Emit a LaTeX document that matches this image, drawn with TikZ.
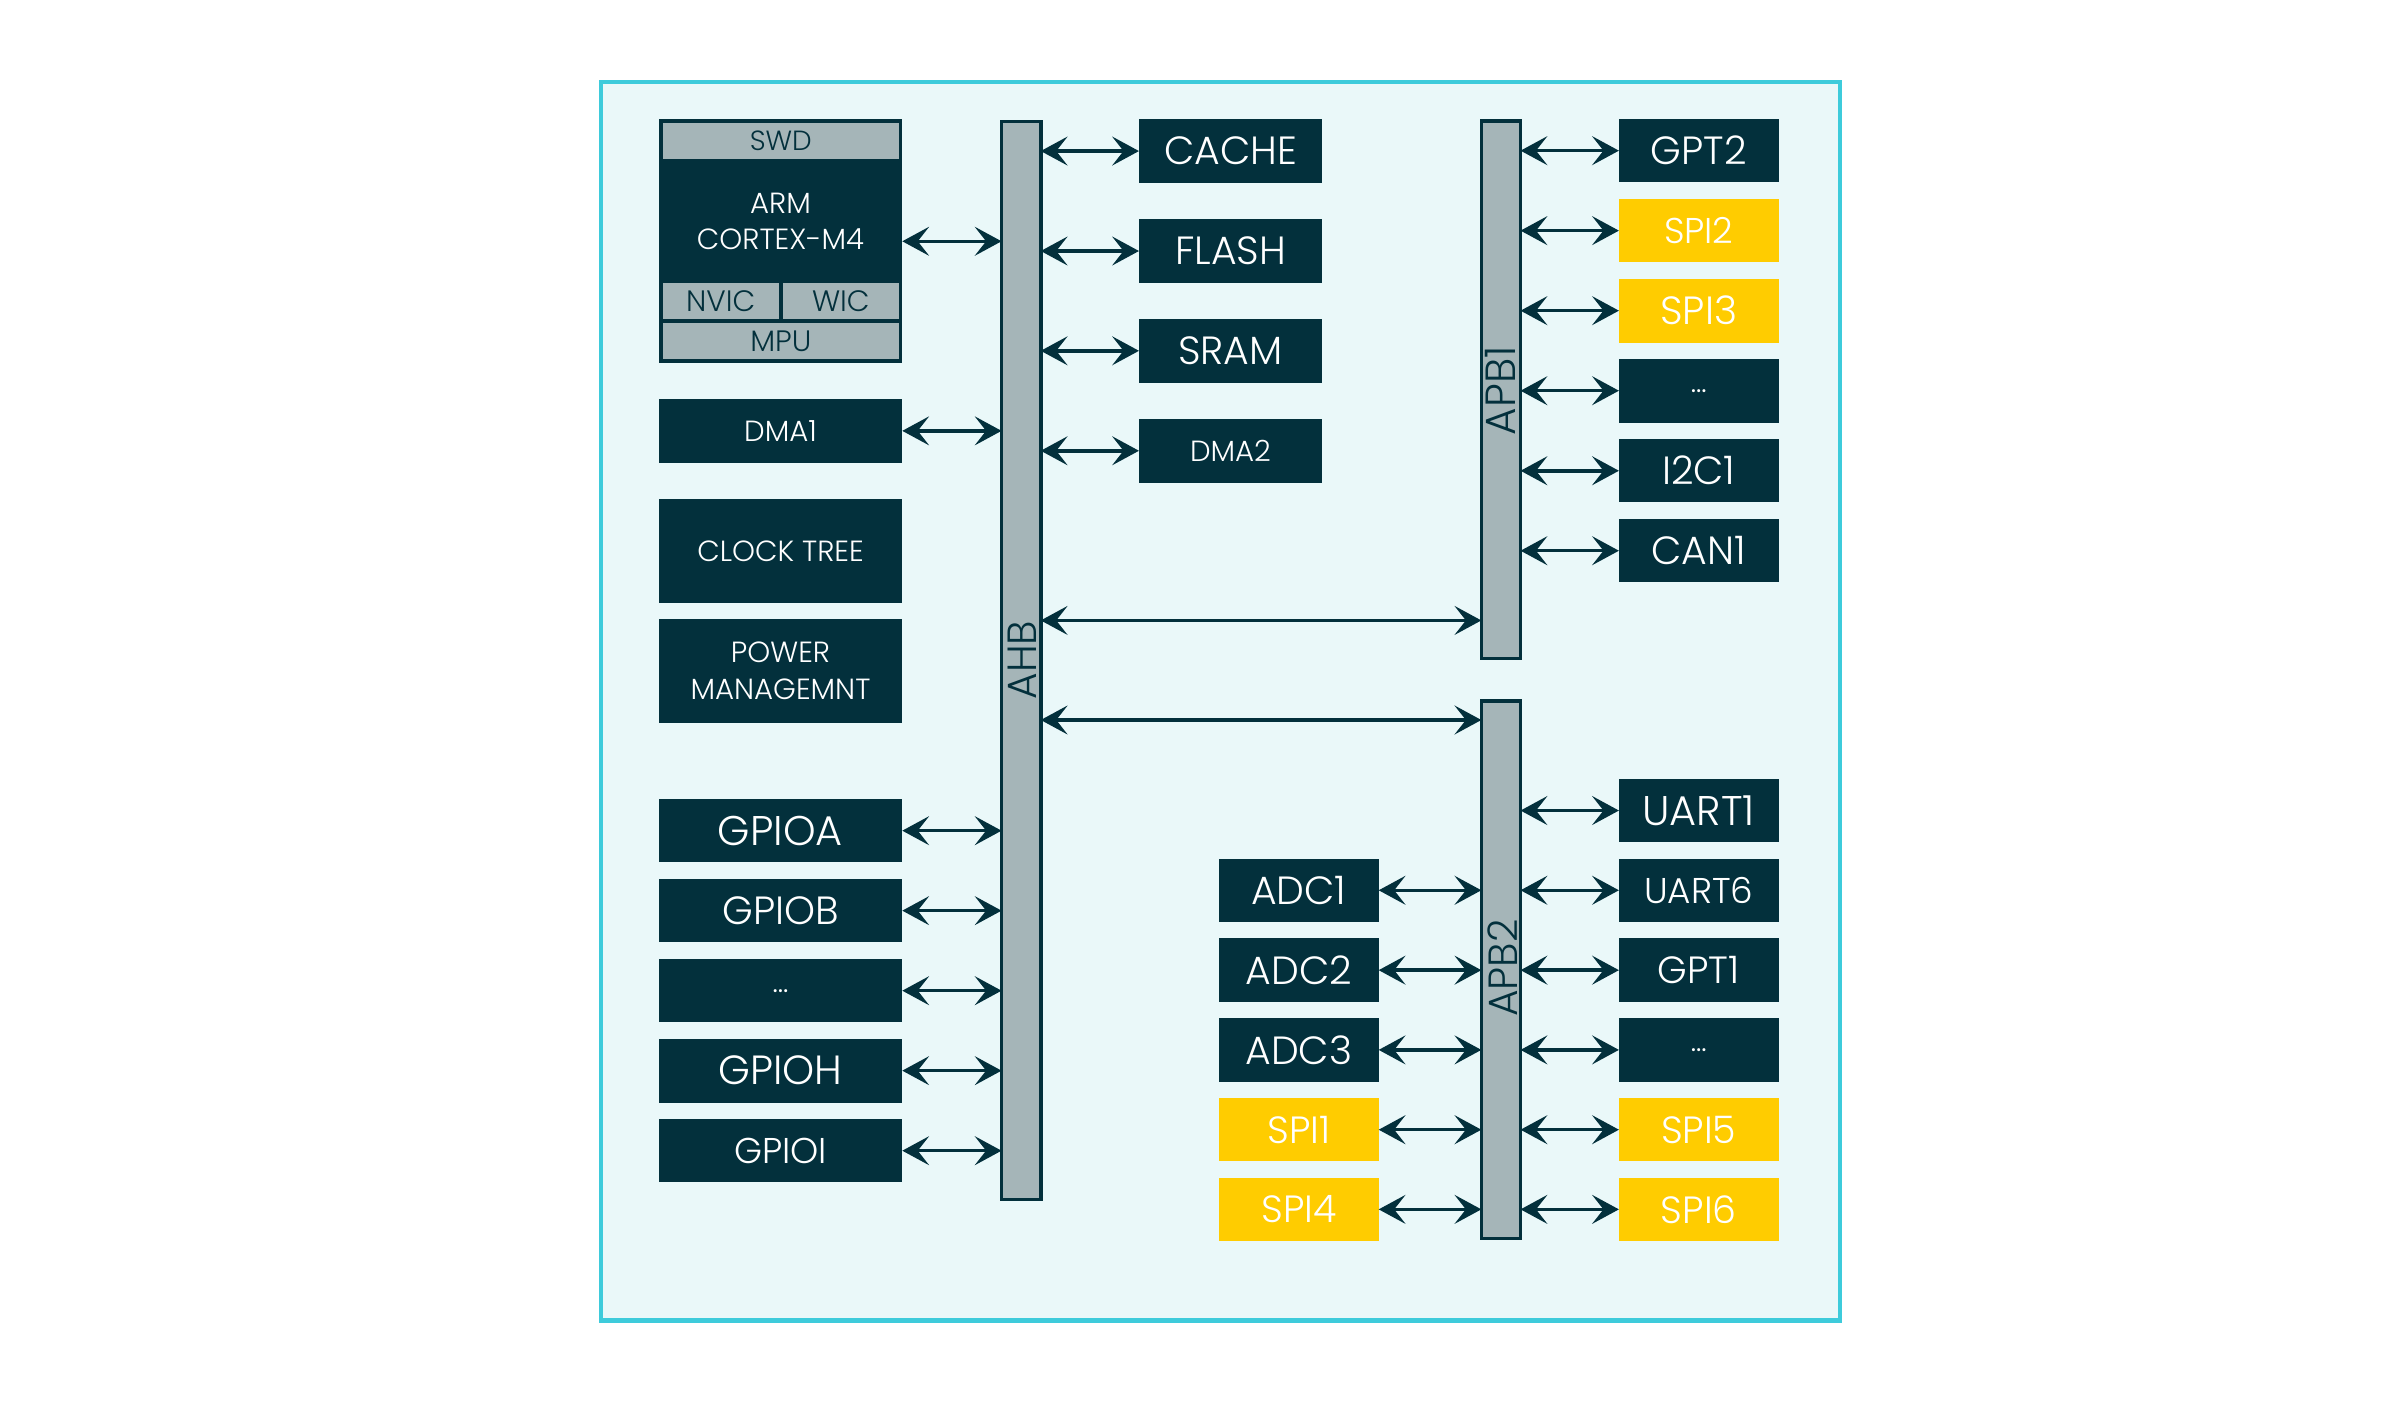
\documentclass[tikz,border=0pt]{standalone}
\usepackage{fontspec}
\setmainfont{Poppins}[UprightFont=* Light]
\usetikzlibrary{arrows.meta}
\definecolor{dk}{HTML}{03303C}
\definecolor{gr}{HTML}{A5B5B8}
\definecolor{yl}{HTML}{FFCC00}
\definecolor{fr}{HTML}{3ECBDB}
\definecolor{bg}{HTML}{EAF8F9}
\def\u{0.015319cm}
% \blk[style]{name}{x1}{y1}{x2}{y2}{text}
\newcommand\blk[7][]{\node[#1, minimum width={(#5-#3)*\u}, minimum height={(#6-#4)*\u}] (#2) at ({(#3+#5)/2},{(#4+#6)/2}) {#7};}
\tikzset{
  base/.style={inner sep=0pt, outer sep=0pt, align=center, font=\fontsize{11.2}{13}\selectfont},
  dbox/.style={base, fill=dk, text=white},
  ybox/.style={base, fill=yl, text=white},
  gcell/.style={base, fill=gr, text=dk, font=\fontsize{8.4}{10}\selectfont},
  bar/.style={base, fill=gr, draw=dk, line width=1pt},
  barlbl/.style={inner sep=0pt, text=dk, rotate=90, font=\fontsize{11.6}{13}\selectfont},
  sm/.style={font=\fontsize{8.3}{10.5}\selectfont},
  md/.style={font=\fontsize{10.2}{12}\selectfont},
  frm/.style={base, fill=bg, draw=fr, line width=1.15pt},
  tip/.tip={Stealth[length=7.6pt,width=8.2pt,inset=3.2pt]},
  link/.style={draw=dk, line width=1pt, tip-tip},
}
\begin{document}
\begin{tikzpicture}[x=\u, y=-\u]
\fill[white] (0,0) rectangle (1568,914);
\useasboundingbox (0,0) rectangle (1568,914);
\blk[frm]{frame}{392.5}{53.5}{1201}{862}{}

% CPU block
\blk[dbox]{cpu}{430}{78}{589}{237}{}
\blk[gcell, font=\fontsize{7.9}{10}\selectfont]{swd}{432.6}{80.4}{586.8}{103.6}{SWD}
\blk[gcell]{nvic}{432.6}{184.7}{508.3}{208}{NVIC}
\blk[gcell]{wic}{511}{184.7}{586.8}{208}{WIC}
\blk[gcell]{mpu}{432.6}{210.8}{586.8}{234.4}{MPU}
\node[base, sm, text=white] (armtxt) at (509.5,144.5) {ARM\\CORTEX-M4};

\blk[dbox, sm]{dma1}{430}{260.5}{589}{302}{DMA1}
\blk[dbox, sm]{clk}{430}{325.7}{589}{393.4}{CLOCK TREE}
\blk[dbox, sm]{pwr}{430}{404}{589}{471.7}{POWER\\MANAGEMNT}

\blk[dbox, font=\fontsize{11.8}{13}\selectfont]{gpioa}{430}{521.5}{589}{563}{GPIOA}
\blk[dbox]{gpiob}{430}{573.7}{589}{615.2}{GPIOB}
\blk[dbox, sm]{gpiod}{430}{626}{589}{667.4}{...}
\blk[dbox, font=\fontsize{11.6}{13}\selectfont]{gpioh}{430}{678.1}{589}{719.7}{GPIOH}
\blk[dbox, md]{gpioi}{430}{730.4}{589}{771.9}{GPIOI}

% AHB
\blk[bar]{ahb}{653.8}{79.2}{679.4}{783}{}
\node[barlbl] (ahblbl) at (667,431) {AHB};

\blk[dbox]{cache}{743.5}{77.9}{863}{119.3}{CACHE}
\blk[dbox]{flash}{743.5}{143.2}{863}{184.5}{FLASH}
\blk[dbox]{sram}{743.5}{208.2}{863}{249.8}{SRAM}
\blk[dbox, sm]{dma2}{743.5}{273.5}{863}{315}{DMA2}

% APB1
\blk[bar]{apb1}{967}{79}{992.6}{430}{}
\node[barlbl, font=\fontsize{12}{13}\selectfont] (apb1lbl) at (979.5,255) {APB1};
\blk[dbox]{gpt2}{1056.8}{77.6}{1161}{119.1}{GPT2}
\blk[ybox, md]{spi2}{1056.8}{129.8}{1161}{171.3}{SPI2}
\blk[ybox]{spi3}{1056.8}{182}{1161}{223.6}{SPI3}
\blk[dbox, sm]{apb1d}{1056.8}{234.3}{1161}{275.8}{...}
\blk[dbox]{i2c1}{1056.8}{286.6}{1161}{328}{I2C1}
\blk[dbox]{can1}{1056.8}{338.8}{1161}{380.2}{CAN1}

% APB2
\blk[bar]{apb2}{967}{457.6}{992.6}{808.6}{}
\node[barlbl] (apb2lbl) at (981,632) {APB2};
\blk[dbox, font=\fontsize{11.8}{13}\selectfont]{uart1}{1056.8}{508.4}{1161}{549.8}{UART1}
\blk[dbox, md]{uart6}{1056.8}{560.5}{1161}{601.8}{UART6}
\blk[dbox, font=\fontsize{10.8}{13}\selectfont]{gpt1}{1056.8}{612.6}{1161}{654}{GPT1}
\blk[dbox, sm]{apb2d}{1056.8}{664.7}{1161}{706}{...}
\blk[ybox, font=\fontsize{10.8}{13}\selectfont]{spi5}{1056.8}{716.8}{1161}{758.1}{SPI5}
\blk[ybox, font=\fontsize{10.8}{13}\selectfont]{spi6}{1056.8}{768.8}{1161}{810.1}{SPI6}

\blk[dbox]{adc1}{795.7}{560.5}{900}{601.8}{ADC1}
\blk[dbox]{adc2}{795.7}{612.6}{900}{654}{ADC2}
\blk[dbox]{adc3}{795.7}{664.7}{900}{706}{ADC3}
\blk[ybox, font=\fontsize{10.8}{13}\selectfont]{spi1}{795.7}{716.8}{900}{758.1}{SPI1}
\blk[ybox, font=\fontsize{10.8}{13}\selectfont]{spi4}{795.7}{768.8}{900}{810.1}{SPI4}

% connectors to AHB
\foreach \n in {cpu,dma1,gpioa,gpiob,gpiod,gpioh,gpioi}
  \draw[link] (\n.east) -- (\n.east -| ahb.west);
\foreach \n in {cache,flash,sram,dma2}
  \draw[link] (\n.west -| ahb.east) -- (\n.west);
% AHB to APB buses
\coordinate (l1) at (0,405);
\coordinate (l2) at (0,470);
\draw[link] (ahb.east |- l1) -- (apb1.west |- l1);
\draw[link] (ahb.east |- l2) -- (apb2.west |- l2);
% APB1
\foreach \n in {gpt2,spi2,spi3,apb1d,i2c1,can1}
  \draw[link] (\n.west -| apb1.east) -- (\n.west);
% APB2
\foreach \n in {uart1,uart6,gpt1,apb2d,spi5,spi6}
  \draw[link] (\n.west -| apb2.east) -- (\n.west);
\foreach \n in {adc1,adc2,adc3,spi1,spi4}
  \draw[link] (\n.east) -- (\n.east -| apb2.west);
\end{tikzpicture}
\end{document}
